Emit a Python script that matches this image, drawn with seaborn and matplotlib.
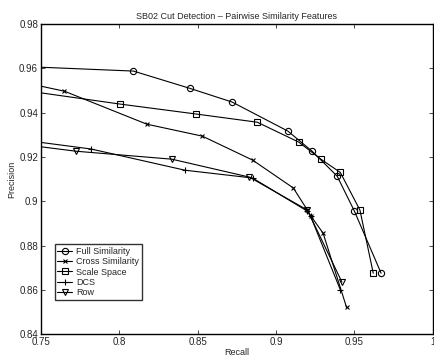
import numpy as np
import pandas as pd
import matplotlib
matplotlib.use("Agg")
import matplotlib.pyplot as plt
import seaborn as sns

# Precision / recall points per feature type (first point lies left of the visible range)
full_recall = [0.700, 0.809, 0.845, 0.872, 0.9075, 0.923, 0.939, 0.950, 0.967]
full_prec = [0.962, 0.9588, 0.951, 0.9448, 0.9317, 0.9226, 0.9113, 0.8955, 0.8675]

cross_recall = [0.740, 0.765, 0.8176, 0.853, 0.885, 0.911, 0.920, 0.922, 0.930, 0.945]
cross_prec = [0.9535, 0.9497, 0.9348, 0.9294, 0.9186, 0.906, 0.896, 0.8935, 0.8856, 0.852]

scale_recall = [0.700, 0.8004, 0.849, 0.888, 0.9145, 0.9286, 0.941, 0.9535, 0.962]
scale_prec = [0.954, 0.9439, 0.9394, 0.9357, 0.9267, 0.919, 0.913, 0.896, 0.8675]

dcs_recall = [0.740, 0.782, 0.842, 0.885, 0.920, 0.922, 0.941]
dcs_prec = [0.9275, 0.9236, 0.914, 0.9105, 0.8955, 0.8933, 0.860]

row_recall = [0.740, 0.7723, 0.8335, 0.883, 0.920, 0.942]
row_prec = [0.9255, 0.9226, 0.919, 0.9109, 0.896, 0.8635]

series = [
    ("Full Similarity", full_recall, full_prec, "o", 4.5),
    ("Cross Similarity", cross_recall, cross_prec, "x", 3.2),
    ("Scale Space", scale_recall, scale_prec, "s", 4.2),
    ("DCS", dcs_recall, dcs_prec, "+", 5.0),
    ("Row", row_recall, row_prec, "v", 4.8),
]

sns.set_style("ticks")
plt.rcParams["font.family"] = ["Liberation Sans", "DejaVu Sans"]

fig = plt.figure(figsize=(4.35, 3.55), dpi=100)
ax = fig.add_axes([0.094, 0.059, 0.901, 0.873])

for name, rec, prec, mk, ms in series:
    df = pd.DataFrame({"Recall": rec, "Precision": prec})
    sns.lineplot(data=df, x="Recall", y="Precision", ax=ax, sort=False,
                 estimator=None, color="black", linewidth=0.8,
                 marker=mk, markersize=ms, markerfacecolor="none",
                 markeredgecolor="black", markeredgewidth=0.8, label=name)

ax.set_xlim(0.75, 1.0)
ax.set_ylim(0.84, 0.98)
ax.set_xticks([0.75, 0.8, 0.85, 0.9, 0.95, 1.0])
ax.set_xticklabels(["0.75", "0.8", "0.85", "0.9", "0.95", "1"])
ax.set_yticks([0.84, 0.86, 0.88, 0.9, 0.92, 0.94, 0.96, 0.98])
ax.set_yticklabels(["0.84", "0.86", "0.88", "0.9", "0.92", "0.94", "0.96", "0.98"])
ax.tick_params(direction="in", top=True, right=True, labelsize=7, length=3,
               width=0.6, pad=2)
for sp in ax.spines.values():
    sp.set_linewidth(1.0)
    sp.set_color("black")

ax.set_xlabel("Recall", fontsize=6.5, labelpad=1)
ax.set_ylabel("Precision", fontsize=6.5, labelpad=2)
ax.set_title("SB02 Cut Detection \u2013 Pairwise Similarity Features",
             fontsize=6.5, pad=4)

leg = ax.legend(loc="upper left", bbox_to_anchor=(0.035, 0.29), fontsize=6.5,
                frameon=True, fancybox=False, edgecolor="black",
                handlelength=1.6, handletextpad=0.5, labelspacing=0.15,
                borderpad=0.3, borderaxespad=0)
leg.get_frame().set_linewidth(1.0)

fig.savefig("out.png", dpi=100)
